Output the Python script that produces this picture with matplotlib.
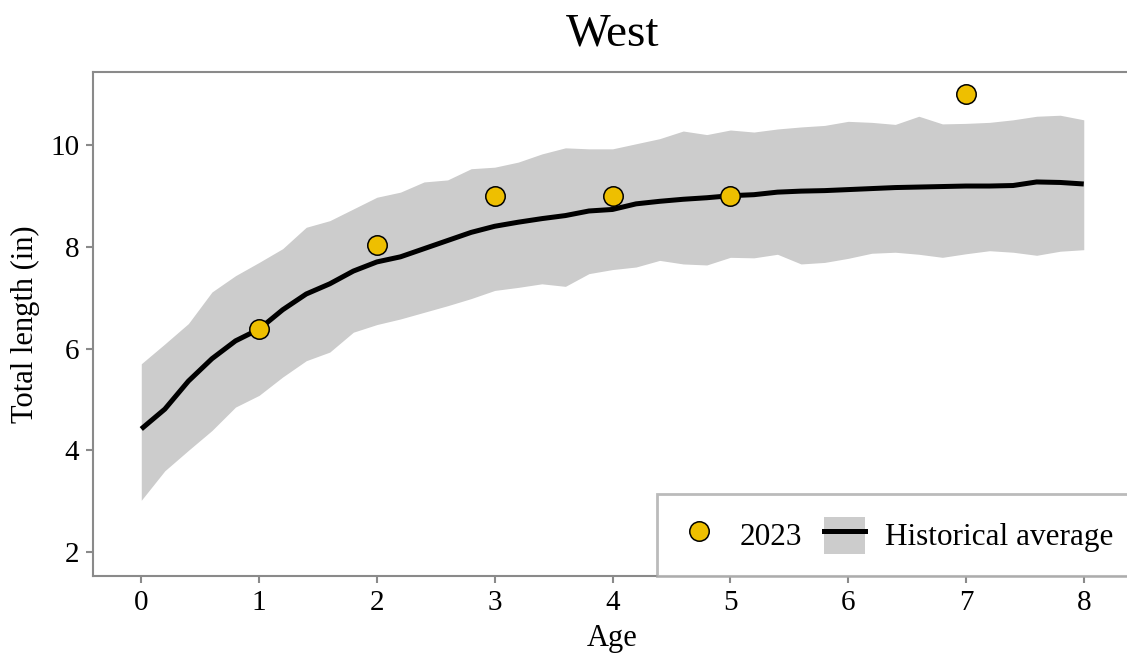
import matplotlib
matplotlib.use("Agg")
import matplotlib.pyplot as plt
from matplotlib.lines import Line2D
from matplotlib.patches import Patch

plt.rcParams['font.family'] = ['Liberation Serif', 'DejaVu Serif']

# historical average by age, with its range
age = [0.0, 0.2, 0.4, 0.6, 0.8, 1.0, 1.2, 1.4, 1.6, 1.8,
       2.0, 2.2, 2.4, 2.6, 2.8, 3.0, 3.2, 3.4, 3.6, 3.8,
       4.0, 4.2, 4.4, 4.6, 4.8, 5.0, 5.2, 5.4, 5.6, 5.8,
       6.0, 6.2, 6.4, 6.6, 6.8, 7.0, 7.2, 7.4, 7.6, 7.8, 8.0]
hist_mean = [4.42, 4.81, 5.36, 5.80, 6.15, 6.38, 6.76, 7.07, 7.27, 7.52,
             7.70, 7.80, 7.96, 8.12, 8.28, 8.40, 8.48, 8.55, 8.61, 8.70,
             8.73, 8.84, 8.89, 8.93, 8.96, 9.00, 9.02, 9.07, 9.09, 9.10,
             9.12, 9.14, 9.16, 9.17, 9.18, 9.19, 9.19, 9.20, 9.27, 9.26, 9.23]
hist_upper = [5.70, 6.09, 6.49, 7.11, 7.43, 7.69, 7.96, 8.38, 8.51, 8.74,
              8.97, 9.07, 9.27, 9.31, 9.53, 9.56, 9.66, 9.82, 9.94, 9.92,
              9.92, 10.02, 10.12, 10.27, 10.20, 10.29, 10.25, 10.31, 10.35, 10.38,
              10.46, 10.44, 10.40, 10.56, 10.41, 10.42, 10.44, 10.49, 10.56, 10.58, 10.49]
hist_lower = [3.02, 3.60, 4.00, 4.39, 4.85, 5.08, 5.44, 5.76, 5.93, 6.32,
              6.47, 6.58, 6.71, 6.84, 6.98, 7.14, 7.20, 7.27, 7.22, 7.47,
              7.55, 7.60, 7.73, 7.66, 7.64, 7.79, 7.78, 7.85, 7.66, 7.69,
              7.77, 7.87, 7.89, 7.85, 7.79, 7.86, 7.92, 7.89, 7.83, 7.91, 7.94]

# 2023 observations
age_2023 = [1, 2, 3, 4, 5, 7]
len_2023 = [6.38, 8.03, 9.0, 9.0, 9.0, 11.0]

gold = '#EEBF00'
ribbon = '#CCCCCC'
axis_gray = '#8A8A8A'

fig = plt.figure(figsize=(11.27, 6.54), dpi=100)
ax = fig.add_axes([0.0825, 0.119, 0.922, 0.771])

ax.fill_between(age, hist_lower, hist_upper, color=ribbon, linewidth=0)
ax.plot(age, hist_mean, color='black', linewidth=3.6, solid_capstyle='butt')
ax.plot(age_2023, len_2023, linestyle='none', marker='o', markersize=14,
        markerfacecolor=gold, markeredgecolor='black', markeredgewidth=1.1)

ax.set_xlim(-0.41, 8.41)
ax.set_ylim(1.53, 11.43)
ax.set_xticks([0, 1, 2, 3, 4, 5, 6, 7, 8])
ax.set_yticks([2, 4, 6, 8, 10])

for s in ax.spines.values():
    s.set_color(axis_gray)
    s.set_linewidth(1.5)
ax.tick_params(axis='both', colors=axis_gray, labelcolor='black', length=5,
               width=1.5, labelsize=21, pad=5)

ax.set_title('West', fontsize=34, pad=19)
ax.set_xlabel('Age', fontsize=22, labelpad=6)
ax.set_ylabel('Total length (in)', fontsize=22, labelpad=7)

h_pts = Line2D([], [], linestyle='none', marker='o', markersize=14,
               markerfacecolor=gold, markeredgecolor='black', markeredgewidth=1.1)
h_hist = (Patch(facecolor=ribbon, edgecolor='none'),
          Line2D([], [], color='black', linewidth=3.6))
leg = ax.legend([h_pts, h_hist], ['2023', 'Historical average'], ncol=2,
                loc='lower right', bbox_to_anchor=(1.004, 0.0), borderaxespad=0,
                fontsize=22.5, frameon=True, fancybox=False, borderpad=0.72,
                handlelength=1.3, handleheight=1.45, handletextpad=0.65,
                columnspacing=0.7)
leg.get_frame().set_edgecolor('#AAAAAA')
leg.get_frame().set_linewidth(2)
leg.get_frame().set_facecolor('white')

fig.savefig('out.png', dpi=100)
